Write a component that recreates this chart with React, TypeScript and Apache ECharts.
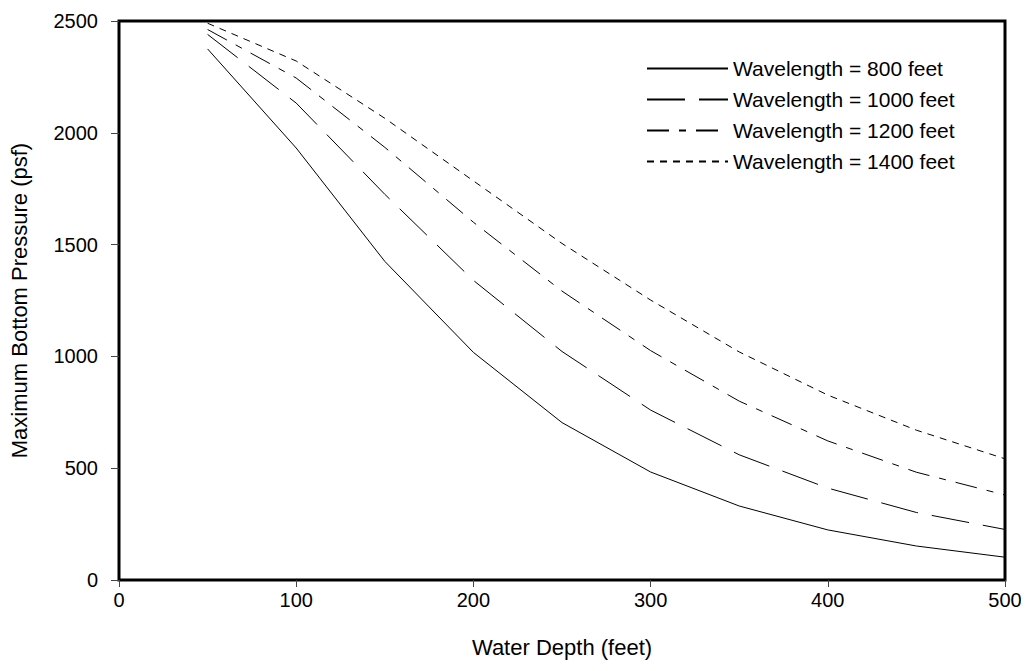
import React, { useEffect, useRef } from "react";
import * as echarts from "echarts";

const depths = [50, 100, 150, 200, 250, 300, 350, 400, 450, 500];
const wl800 = [2375, 1932, 1425, 1018, 704, 483, 331, 224, 152, 102];
const wl1000 = [2440, 2133, 1725, 1340, 1022, 760, 560, 411, 302, 226];
const wl1200 = [2462, 2245, 1935, 1600, 1292, 1026, 800, 622, 482, 380];
const wl1400 = [2490, 2321, 2065, 1785, 1505, 1252, 1020, 827, 670, 542];
const seriesNames = [
  "Wavelength = 800 feet",
  "Wavelength = 1000 feet",
  "Wavelength = 1200 feet",
  "Wavelength = 1400 feet",
];
const xTicks = [0, 100, 200, 300, 400, 500];
const yTicks = [0, 500, 1000, 1500, 2000, 2500];

const FONT = "'Liberation Sans', Arial, sans-serif";

export default function App() {
  const ref = useRef<HTMLDivElement>(null);
  useEffect(() => {
    if (!ref.current) return;
    const chart = echarts.init(ref.current, undefined, { renderer: "svg" });
    const allSeries = [wl800, wl1000, wl1200, wl1400];
    const dashes: any[] = ["solid", [38, 14], [22, 10, 7, 10], [7, 6]];
    chart.setOption({
      animation: false,
      backgroundColor: "#ffffff",
      textStyle: { fontFamily: FONT },
      grid: {
        left: 119,
        right: 24,
        top: 21,
        bottom: 91,
        show: true,
        borderColor: "#000",
        borderWidth: 3,
        backgroundColor: "transparent",
      },
      legend: {
        show: true,
        orient: "vertical",
        left: 641,
        top: 53,
        itemWidth: 81,
        itemHeight: 14,
        itemGap: 10,
        itemTextGap: 6,
        itemStyle: { opacity: 0 },
        textStyle: { fontFamily: FONT, fontSize: 21, color: "#000" },
        data: seriesNames,
      },
      xAxis: {
        type: "value",
        min: xTicks[0],
        max: xTicks[xTicks.length - 1],
        interval: 100,
        name: "Water Depth (feet)",
        nameLocation: "middle",
        nameGap: 56,
        nameTextStyle: { fontFamily: FONT, fontSize: 22, color: "#000" },
        axisLine: { show: false },
        axisTick: { show: true, inside: false, length: 7, lineStyle: { color: "#444", width: 1 } },
        axisLabel: { fontFamily: FONT, fontSize: 20, color: "#000", margin: 10 },
        splitLine: { show: false },
      },
      yAxis: {
        type: "value",
        min: yTicks[0],
        max: yTicks[yTicks.length - 1],
        interval: 500,
        name: "Maximum Bottom Pressure (psf)",
        nameLocation: "middle",
        nameGap: 89,
        nameTextStyle: { fontFamily: FONT, fontSize: 22, color: "#000" },
        axisLine: { show: false },
        axisTick: { show: true, inside: false, length: 8, lineStyle: { color: "#444", width: 1 } },
        axisLabel: {
          fontFamily: FONT,
          fontSize: 20,
          color: "#000",
          margin: 21,
          formatter: (v: number) => String(v),
        },
        splitLine: { show: false },
      },
      series: allSeries.map((vals, i) => ({
        name: seriesNames[i],
        type: "line",
        data: depths.map((d, j) => [d, vals[j]]),
        symbol: "none",
        showSymbol: false,
        lineStyle: { color: "#000", width: 1, type: dashes[i] },
        itemStyle: { color: "#000" },
      })),
    });
    return () => chart.dispose();
  }, []);
  return <div ref={ref} style={{ width: 1029, height: 671, margin: -8 }} />;
}
